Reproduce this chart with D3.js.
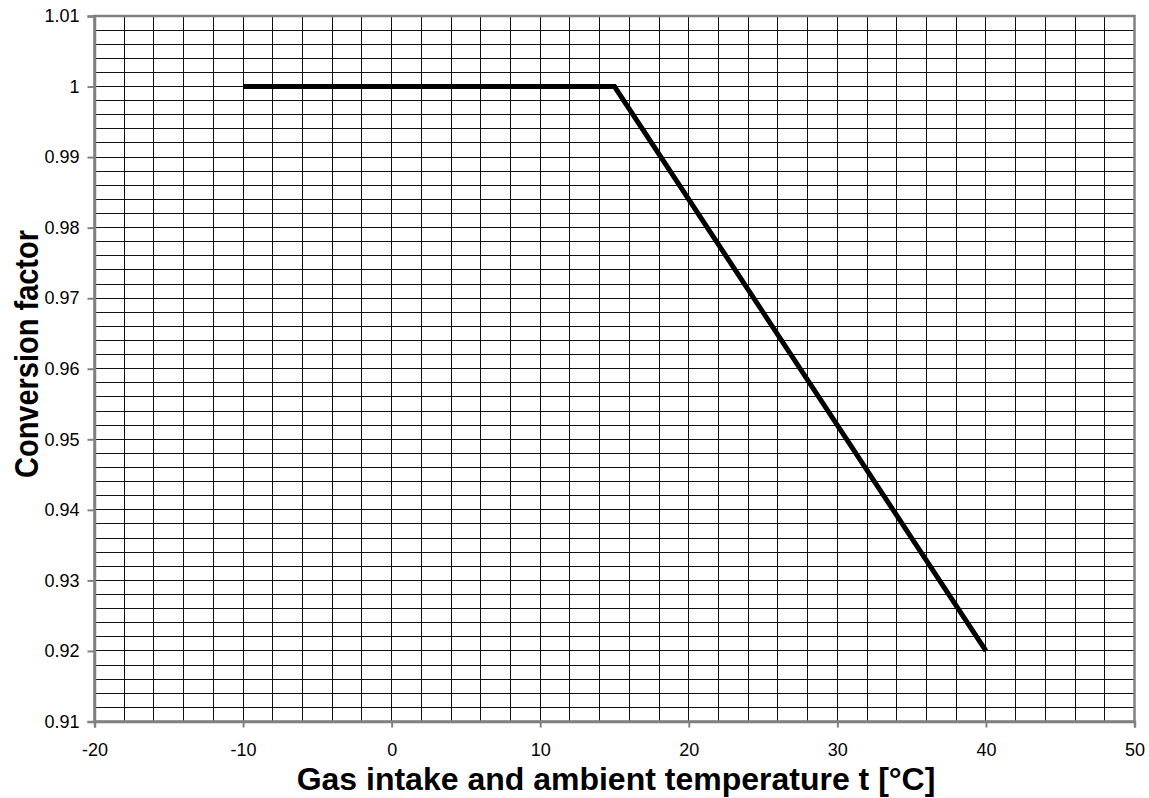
<!DOCTYPE html>
<html>
<head>
<meta charset="utf-8">
<script src="https://cdn.jsdelivr.net/npm/d3@7"></script>
<style>
  body { margin: 0; background: #fff; }
  svg { display: block; }
  text { font-family: Arial, "Liberation Sans", sans-serif; }
  .tick text { font-size: 18px; }
</style>
</head>
<body>
<svg id="chart" width="1149" height="798"></svg>
<script>
// Data
const temps = [-10, 15, 40];
const factors = [1, 1, 0.92];
const xTicks = [-20, -10, 0, 10, 20, 30, 40, 50];
const yTicks = [0.91, 0.92, 0.93, 0.94, 0.95, 0.96, 0.97, 0.98, 0.99, 1, 1.01];

const svg = d3.select("#chart");
const plotL = 94.5, plotR = 1134.5, plotT = 16, plotB = 721.5;

const x = d3.scaleLinear().domain([-20, 50]).range([plotL, plotR]);
const y = d3.scaleLinear().domain([0.91, 1.01]).range([plotB, plotT]);

// grid: every 2 degrees and every 0.002
const grid = svg.append("g").attr("shape-rendering", "crispEdges");
grid.selectAll("line.v")
  .data(d3.range(-18, 50, 2))
  .join("line")
  .attr("class", "v")
  .attr("x1", d => x(d)).attr("x2", d => x(d))
  .attr("y1", plotT).attr("y2", plotB)
  .attr("stroke", "#111").attr("stroke-width", 1);

grid.selectAll("line.h")
  .data(d3.range(1, 50).map(i => 0.91 + i * 0.002))
  .join("line")
  .attr("class", "h")
  .attr("x1", plotL).attr("x2", plotR)
  .attr("y1", d => y(d)).attr("y2", d => y(d))
  .attr("stroke", "#111").attr("stroke-width", 1);

// plot border
svg.append("rect")
  .attr("x", plotL).attr("y", plotT)
  .attr("width", plotR - plotL).attr("height", plotB - plotT)
  .attr("fill", "none").attr("stroke", "#808080").attr("stroke-width", 2.5);

// axes
const yAxis = d3.axisLeft(y).tickValues(yTicks).tickSize(7).tickPadding(8)
  .tickFormat(d => String(+d.toFixed(2)));
const gy = svg.append("g").attr("transform", `translate(${plotL},0)`).call(yAxis)
  .attr("font-size", 18).attr("font-family", "Arial, 'Liberation Sans', sans-serif");
gy.select(".domain").attr("stroke", "#808080").attr("stroke-width", 2.5);
gy.selectAll(".tick line").attr("stroke", "#808080").attr("stroke-width", 2);
gy.selectAll(".tick text").attr("fill", "#000");

const xAxis = d3.axisBottom(x).tickValues(xTicks).tickSize(6).tickPadding(16)
  .tickFormat(d => String(d));
const gx = svg.append("g").attr("transform", `translate(0,${plotB})`).call(xAxis)
  .attr("font-size", 18).attr("font-family", "Arial, 'Liberation Sans', sans-serif");
gx.select(".domain").attr("stroke", "#808080").attr("stroke-width", 2.5);
gx.selectAll(".tick line").attr("stroke", "#808080").attr("stroke-width", 2);
gx.selectAll(".tick text").attr("fill", "#000");

// the curve
const line = d3.line().x(d => x(d[0])).y(d => y(d[1]));
svg.append("path")
  .datum(temps.map((t, i) => [t, factors[i]]))
  .attr("d", line)
  .attr("fill", "none")
  .attr("stroke", "#000")
  .attr("stroke-width", 5)
  .attr("stroke-linejoin", "miter");

// titles
svg.append("text")
  .attr("x", 616).attr("y", 790)
  .attr("text-anchor", "middle")
  .attr("font-size", 32).attr("font-weight", "bold")
  .text("Gas intake and ambient temperature t [°C]");

svg.append("text")
  .attr("transform", `translate(38,354) rotate(-90)`)
  .attr("text-anchor", "middle")
  .attr("font-size", 33).attr("font-weight", "bold")
  .attr("textLength", 248).attr("lengthAdjust", "spacingAndGlyphs")
  .text("Conversion factor");
</script>
</body>
</html>
